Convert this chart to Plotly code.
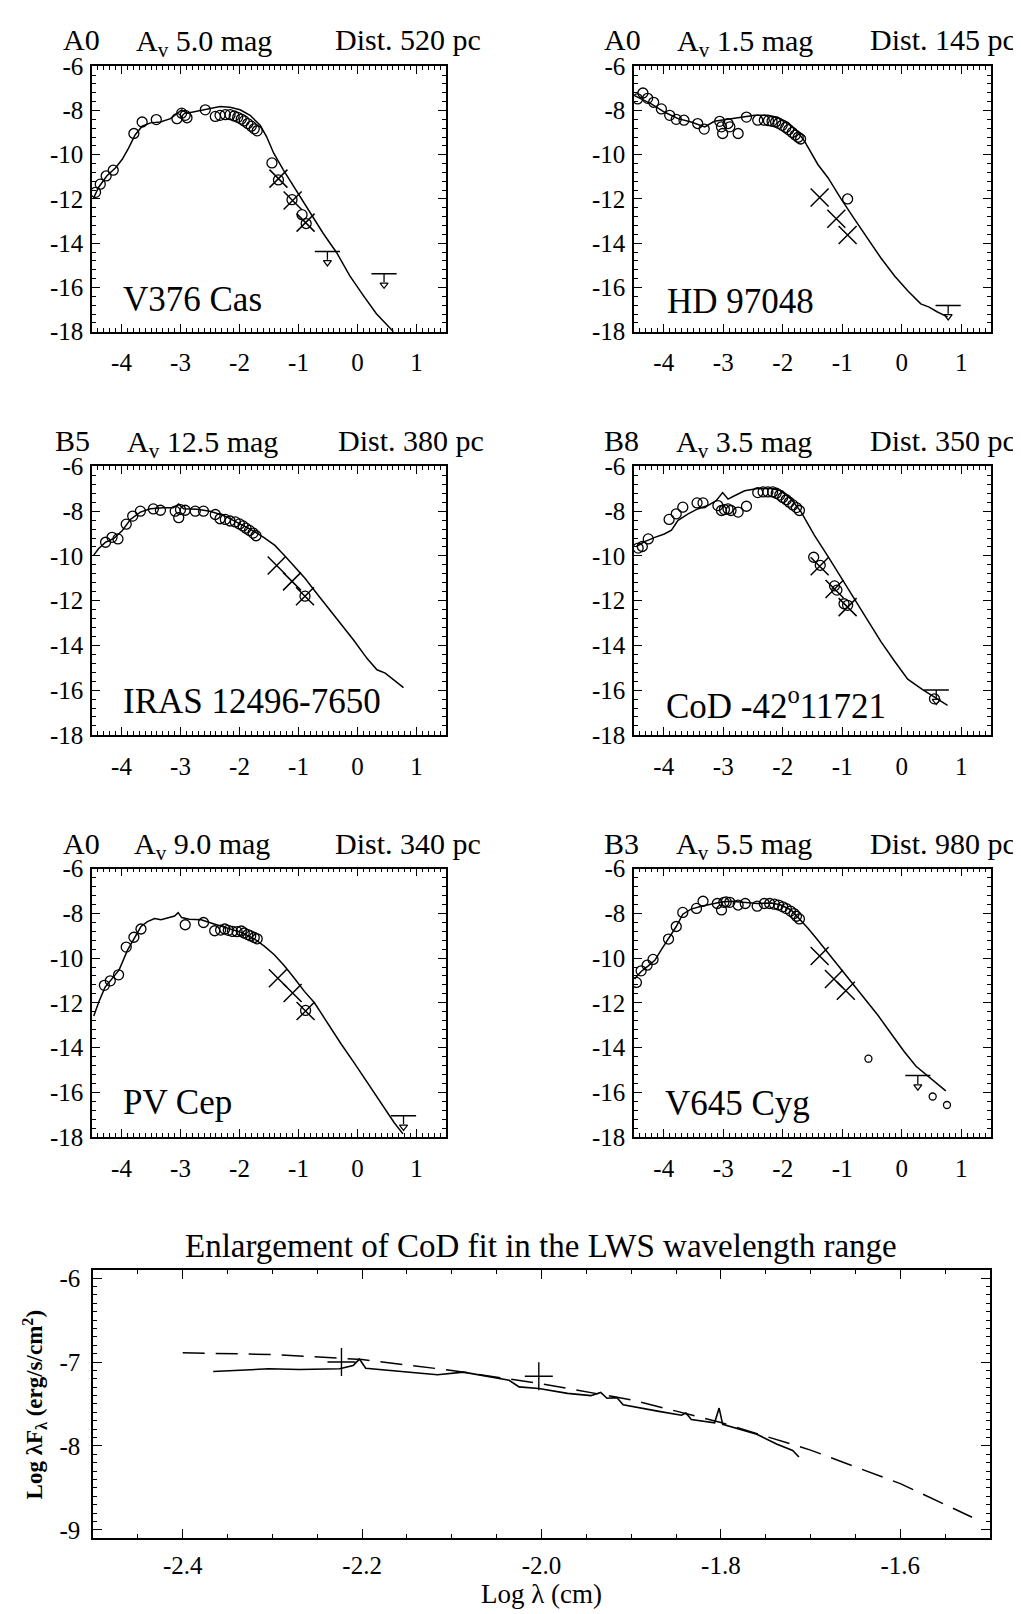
import plotly.graph_objects as go

W, H = 1021, 1614
SERIF = "Liberation Serif, Times New Roman, serif"

# ================= DATA =================
# --- Panel 1: V376 Cas ---
v376_model_x = [-4.48, -4.39, -4.25, -4.10, -3.99, -3.88, -3.77, -3.65, -3.51, -3.34, -3.17, -3.03, -2.98, -2.89,
                -2.72, -2.55, -2.33, -2.16, -1.99, -1.82, -1.65, -1.54, -1.42, -1.26, -1.03, -0.80, -0.58, -0.35,
                -0.13, 0.10, 0.32, 0.61]
v376_model_y = [-12.00, -11.48, -10.96, -10.59, -10.22, -9.70, -9.11, -8.71, -8.56, -8.52, -8.37, -8.07, -7.97, -8.12,
                -8.03, -7.93, -7.82, -7.85, -7.97, -8.22, -8.67, -9.19, -9.93, -10.67, -11.63, -12.59, -13.56, -14.44,
                -15.48, -16.37, -17.19, -18.00]
v376_obs_x = [-4.44, -4.36, -4.26, -4.14, -3.79, -3.65, -3.41, -3.06, -2.98, -2.92, -2.89, -2.58, -2.41, -2.33, -2.24,
              -2.16, -2.09, -2.03, -1.97, -1.92, -1.86, -1.80, -1.75, -1.70, -1.45, -1.34, -1.11, -0.94, -0.87]
v376_obs_y = [-11.70, -11.33, -10.96, -10.70, -9.04, -8.52, -8.41, -8.37, -8.12, -8.22, -8.33, -7.97, -8.27, -8.22,
              -8.19, -8.19, -8.25, -8.31, -8.39, -8.47, -8.59, -8.71, -8.83, -8.92, -10.37, -11.14, -12.03, -12.71,
              -13.11]
v376_iras_x = [-1.34, -1.10, -0.88]
v376_iras_y = [-11.08, -12.07, -13.07]
v376_ul_x = [-0.51, 0.45]
v376_ul_y = [-14.37, -15.38]

# --- Panel 2: HD 97048 ---
hd_model_x = [-4.49, -4.38, -4.21, -3.99, -3.76, -3.54, -3.31, -3.15, -2.92, -2.70, -2.47, -2.25, -2.08, -1.91,
              -1.75, -1.63, -1.52, -1.41, -1.24, -1.02, -0.80, -0.57, -0.35, -0.12, 0.10, 0.32, 0.46, 0.60, 0.77]
hd_model_y = [-7.33, -7.48, -7.70, -8.07, -8.37, -8.52, -8.74, -8.49, -8.40, -8.30, -8.22, -8.22, -8.31, -8.55,
              -8.96, -9.41, -9.93, -10.44, -11.04, -12.00, -12.89, -13.78, -14.67, -15.48, -16.15, -16.74, -16.89,
              -17.11, -17.33]
hd_obs_x = [-4.44, -4.35, -4.27, -4.17, -4.04, -3.90, -3.79, -3.66, -3.43, -3.32, -3.06, -3.03, -3.01, -2.92, -2.89,
            -2.75, -2.61, -2.42, -2.31, -2.24, -2.18, -2.12, -2.07, -2.01, -1.95, -1.90, -1.84, -1.79, -1.74, -1.70,
            -0.91]
hd_obs_y = [-7.48, -7.21, -7.45, -7.63, -7.93, -8.22, -8.40, -8.44, -8.59, -8.84, -8.49, -8.74, -9.04, -8.59, -8.74,
            -9.04, -8.30, -8.44, -8.44, -8.46, -8.49, -8.52, -8.58, -8.67, -8.77, -8.87, -8.99, -9.11, -9.21, -9.29,
            -12.00]
hd_iras_x = [-1.38, -1.10, -0.91]
hd_iras_y = [-11.93, -12.89, -13.63]
hd_ul_x = [0.78]
hd_ul_y = [-16.81]

# --- Panel 3: IRAS 12496-7650 ---
iras_model_x = [-4.48, -4.39, -4.27, -4.13, -3.99, -3.85, -3.68, -3.51, -3.29, -3.12, -3.03, -2.95, -2.72, -2.50,
                -2.27, -2.05, -1.82, -1.59, -1.40, -1.23, -1.06, -0.89, -0.72, -0.52, -0.30, -0.07, 0.16, 0.33,
                0.47, 0.61, 0.78]
iras_model_y = [-10.00, -9.68, -9.39, -9.22, -8.88, -8.37, -8.04, -7.89, -7.85, -7.85, -7.68, -7.89, -7.92, -8.00,
                -8.19, -8.48, -8.80, -9.17, -9.53, -10.00, -10.48, -11.00, -11.58, -12.24, -12.97, -13.75, -14.58,
                -15.09, -15.24, -15.53, -15.89]
iras_obs_x = [-4.27, -4.16, -4.06, -3.92, -3.81, -3.68, -3.46, -3.34, -3.09, -3.03, -3.00, -2.92, -2.75, -2.61, -2.41,
              -2.33, -2.24, -2.16, -2.07, -2.00, -1.94, -1.89, -1.83, -1.77, -1.72, -0.89]
iras_obs_y = [-9.39, -9.17, -9.24, -8.58, -8.22, -8.00, -7.90, -7.96, -8.00, -8.29, -7.93, -7.96, -8.00, -8.00, -8.15,
              -8.34, -8.37, -8.44, -8.48, -8.57, -8.66, -8.76, -8.86, -8.98, -9.10, -11.80]
iras_iras_x = [-1.37, -1.11, -0.89]
iras_iras_y = [-10.43, -11.14, -11.80]
iras_ul_x = []
iras_ul_y = []

# --- Panel 4: CoD -42 11721 ---
cod_model_x = [-4.46, -4.32, -4.15, -3.99, -3.87, -3.76, -3.59, -3.43, -3.26, -3.12, -3.01, -2.92, -2.81, -2.64,
               -2.42, -2.19, -2.03, -1.86, -1.69, -1.47, -1.24, -1.02, -0.80, -0.57, -0.35, -0.12, 0.10, 0.35,
               0.55, 0.77]
cod_model_y = [-9.58, -9.36, -9.17, -9.02, -8.85, -8.41, -8.12, -7.90, -7.75, -7.53, -7.17, -7.46, -7.31, -7.09,
               -6.99, -6.99, -7.09, -7.46, -8.04, -9.07, -10.02, -10.97, -11.92, -12.88, -13.83, -14.71, -15.51,
               -15.98, -16.32, -16.68]
cod_obs_x = [-4.43, -4.36, -4.26, -3.91, -3.79, -3.68, -3.44, -3.34, -3.09, -3.03, -2.98, -2.92, -2.87, -2.75, -2.61,
             -2.42, -2.33, -2.25, -2.17, -2.11, -2.05, -2.00, -1.94, -1.89, -1.83, -1.77, -1.72, -1.48, -1.37,
             -1.13, -1.09, -0.97, -0.91, 0.55]
cod_obs_y = [-9.65, -9.58, -9.24, -8.37, -8.12, -7.82, -7.63, -7.63, -7.75, -7.97, -7.93, -7.90, -7.97, -8.04, -7.78,
             -7.17, -7.14, -7.14, -7.14, -7.20, -7.28, -7.39, -7.49, -7.60, -7.72, -7.84, -7.97, -10.06, -10.42,
             -11.34, -11.53, -12.14, -12.21, -16.39]
cod_iras_x = [-1.38, -1.13, -0.91]
cod_iras_y = [-10.46, -11.48, -12.29]
cod_ul_x = [0.58]
cod_ul_y = [-15.99]

# --- Panel 5: PV Cep ---
pv_model_x = [-4.47, -4.38, -4.28, -4.15, -4.04, -3.90, -3.75, -3.67, -3.56, -3.44, -3.33, -3.19, -3.10, -3.04,
              -2.98, -2.85, -2.65, -2.43, -2.20, -1.97, -1.75, -1.58, -1.41, -1.24, -1.07, -0.90, -0.73, -0.51,
              -0.28, -0.05, 0.17, 0.40, 0.62, 0.77]
pv_model_y = [-12.59, -11.93, -11.31, -10.87, -10.53, -9.66, -9.00, -8.59, -8.37, -8.23, -8.29, -8.20, -8.12, -7.97,
              -8.19, -8.26, -8.29, -8.48, -8.67, -8.85, -9.14, -9.47, -9.85, -10.34, -10.90, -11.49, -12.00, -12.92,
              -13.83, -14.71, -15.59, -16.47, -17.35, -17.86]
pv_obs_x = [-4.29, -4.19, -4.05, -3.92, -3.79, -3.67, -2.92, -2.61, -2.42, -2.32, -2.25, -2.19, -2.12, -2.04, -1.97,
            -1.92, -1.86, -1.81, -1.75, -1.70, -0.88]
pv_obs_y = [-11.22, -11.02, -10.75, -9.51, -9.07, -8.70, -8.51, -8.41, -8.78, -8.75, -8.70, -8.76, -8.81, -8.82, -8.79,
            -8.88, -8.95, -9.01, -9.08, -9.14, -12.34]
pv_iras_x = [-1.35, -1.10, -0.88]
pv_iras_y = [-10.90, -11.56, -12.37]
pv_ul_x = [0.78]
pv_ul_y = [-17.05]

# --- Panel 6: V645 Cyg ---
v645_model_x = [-4.49, -4.38, -4.26, -4.15, -4.04, -3.93, -3.79, -3.68, -3.54, -3.37, -3.20, -3.03, -2.87, -2.64,
                -2.42, -2.19, -2.03, -1.86, -1.72, -1.58, -1.44, -1.27, -1.10, -0.94, -0.77, -0.60, -0.40, -0.18,
                0.04, 0.24, 0.41, 0.58, 0.74]
v645_model_y = [-10.94, -10.60, -10.35, -10.10, -9.62, -9.18, -8.59, -8.04, -7.81, -7.68, -7.57, -7.49, -7.46, -7.51,
                -7.56, -7.54, -7.63, -7.85, -8.25, -8.66, -9.10, -9.66, -10.21, -10.79, -11.31, -11.90, -12.56,
                -13.37, -14.18, -14.84, -15.21, -15.57, -15.94]
v645_obs_x = [-4.46, -4.38, -4.28, -4.18, -3.92, -3.79, -3.68, -3.45, -3.34, -3.10, -3.03, -2.99, -2.95, -2.89, -2.75,
              -2.63, -2.43, -2.31, -2.22, -2.14, -2.07, -2.00, -1.94, -1.87, -1.81, -1.77, -1.72]
v645_obs_y = [-11.09, -10.57, -10.32, -10.06, -9.15, -8.59, -7.96, -7.78, -7.46, -7.56, -7.85, -7.51, -7.49, -7.51,
              -7.63, -7.56, -7.68, -7.56, -7.56, -7.59, -7.63, -7.71, -7.79, -7.90, -8.01, -8.13, -8.25]
v645_mm_x = [-0.56, 0.52, 0.76]
v645_mm_y = [-14.50, -16.19, -16.57]
v645_iras_x = [-1.38, -1.14, -0.94]
v645_iras_y = [-9.91, -10.94, -11.46]
v645_ul_x = [0.27]
v645_ul_y = [-15.25]

# --- Panel headers ---
spectral_types = ["A0", "A0", "B5", "B8", "A0", "B3"]
extinctions = ["5.0", "1.5", "12.5", "3.5", "9.0", "5.5"]
distances = ["520", "145", "380", "350", "340", "980"]
star_names = ["V376 Cas", "HD 97048", "IRAS 12496-7650", "CoD -42<sup>o</sup>11721", "PV Cep", "V645 Cyg"]

sed_xtick_vals = [-4, -3, -2, -1, 0, 1]
sed_xtick_text = ["-4", "-3", "-2", "-1", "0", "1"]
sed_ytick_vals = [-18, -16, -14, -12, -10, -8, -6]
sed_ytick_text = ["-18", "-16", "-14", "-12", "-10", "-8", "-6"]

# --- Bottom panel: CoD LWS enlargement ---
lws_model_x = [-2.40, -2.30, -2.20, -2.10, -2.00, -1.90, -1.80, -1.70, -1.60, -1.52]
lws_model_y = [-6.89, -6.91, -6.97, -7.10, -7.26, -7.45, -7.72, -8.05, -8.45, -8.85]
lws_spec_x = [-2.366, -2.340, -2.304, -2.270, -2.225, -2.210, -2.203, -2.196, -2.159, -2.116, -2.087, -2.058,
              -2.036, -2.025, -2.003, -1.971, -1.945, -1.934, -1.927, -1.916, -1.909, -1.869, -1.844, -1.839,
              -1.833, -1.807, -1.802, -1.798, -1.760, -1.738, -1.720, -1.713]
lws_spec_y = [-7.113, -7.100, -7.081, -7.090, -7.081, -7.043, -6.965, -7.074, -7.113, -7.152, -7.121, -7.179,
              -7.218, -7.296, -7.315, -7.374, -7.401, -7.362, -7.432, -7.424, -7.510, -7.588, -7.634, -7.607,
              -7.685, -7.724, -7.549, -7.743, -7.860, -7.977, -8.054, -8.132]
lws_phot_x = [-2.223, -2.003]
lws_phot_y = [-7.00, -7.17]
lws_xtick_vals = [-2.4, -2.2, -2.0, -1.8, -1.6]
lws_xtick_text = ["-2.4", "-2.2", "-2.0", "-1.8", "-1.6"]
lws_ytick_vals = [-9, -8, -7, -6]
lws_ytick_text = ["-9", "-8", "-7", "-6"]

panels = [
    (v376_model_x, v376_model_y, v376_obs_x, v376_obs_y, v376_iras_x, v376_iras_y, v376_ul_x, v376_ul_y),
    (hd_model_x, hd_model_y, hd_obs_x, hd_obs_y, hd_iras_x, hd_iras_y, hd_ul_x, hd_ul_y),
    (iras_model_x, iras_model_y, iras_obs_x, iras_obs_y, iras_iras_x, iras_iras_y, iras_ul_x, iras_ul_y),
    (cod_model_x, cod_model_y, cod_obs_x, cod_obs_y, cod_iras_x, cod_iras_y, cod_ul_x, cod_ul_y),
    (pv_model_x, pv_model_y, pv_obs_x, pv_obs_y, pv_iras_x, pv_iras_y, pv_ul_x, pv_ul_y),
    (v645_model_x, v645_model_y, v645_obs_x, v645_obs_y, v645_iras_x, v645_iras_y, v645_ul_x, v645_ul_y),
]

# ================= LAYOUT GEOMETRY (pixels) =================
col_px = [(84, 438), (626, 983)]
row_px = [(46, 316), (453, 726), (862, 1135)]
# header pieces: (spectral left edge, A_v centre, distance right edge), header cap-centre y
head_x = [(53, 196, 475), (594, 737, 1010), (45, 194, 478), (594, 736, 1010), (53, 194, 475), (594, 736, 1010)]
head_y = [19, 19, 427, 427, 836, 836]
name_pos = [(113, 283), (657, 285), (113, 692), (656, 694), (113, 1100), (655, 1101)]


def xdom(l, r):
    return [l / W, r / W]


def ydom(t, b):
    return [1 - b / H, 1 - t / H]


def px(x):
    return x / W


def py(y):
    return 1 - y / H


fig = go.Figure()
line_k = dict(color="black", width=1.5)
layout_axes = {}
annotations = []

for i, (mx, my, ox, oy, ix, iy, ux, uy) in enumerate(panels):
    n = i + 1
    xa, ya = f"x{n}", f"y{n}"
    fig.add_trace(go.Scatter(x=mx, y=my, mode="lines", line=line_k, xaxis=xa, yaxis=ya, showlegend=False))
    fig.add_trace(go.Scatter(x=ox, y=oy, mode="markers", xaxis=xa, yaxis=ya, showlegend=False,
                             marker=dict(symbol="circle-open", size=10, color="black", line=dict(width=1.3))))
    fig.add_trace(go.Scatter(x=ix, y=iy, mode="markers", xaxis=xa, yaxis=ya, showlegend=False,
                             marker=dict(symbol="x-thin-open", size=18, color="black", line=dict(width=1.5))))
    if ux:
        fig.add_trace(go.Scatter(x=ux, y=uy, mode="markers", xaxis=xa, yaxis=ya, showlegend=False,
                                 marker=dict(symbol="line-ew-open", size=18, color="black", line=dict(width=1.5)),
                                 error_y=dict(type="data", symmetric=False, array=[0] * len(ux),
                                              arrayminus=[0.38] * len(ux), width=0, thickness=1.3,
                                              color="black")))
        fig.add_trace(go.Scatter(x=ux, y=[v - 0.5 for v in uy], mode="markers", xaxis=xa, yaxis=ya,
                                 showlegend=False,
                                 marker=dict(symbol="triangle-down-open", size=7, color="black",
                                             line=dict(width=1.2))))
    if n == 6:
        fig.add_trace(go.Scatter(x=v645_mm_x, y=v645_mm_y, mode="markers", xaxis=xa, yaxis=ya, showlegend=False,
                                 marker=dict(symbol="circle-open", size=7, color="black", line=dict(width=1.3))))

    c, r = i % 2, i // 2
    common = dict(ticks="inside", ticklen=8, tickwidth=1.2, tickcolor="black", showline=True, linecolor="black",
                  linewidth=1.5, mirror="ticks", showgrid=False, zeroline=False,
                  tickfont=dict(family=SERIF, size=25, color="black"))
    layout_axes[f"xaxis{n}"] = dict(common, domain=xdom(*col_px[c]), range=[-4.5, 1.5], tickmode="array",
                                    tickvals=sed_xtick_vals, ticktext=sed_xtick_text, anchor=ya,
                                    ticklabelstandoff=8,
                                    minor=dict(ticks="inside", ticklen=4, tickwidth=1, tickcolor="black",
                                               tickmode="linear", tick0=0, dtick=0.1))
    layout_axes[f"yaxis{n}"] = dict(common, domain=ydom(*row_px[r]), range=[-18, -6], tickmode="array",
                                    tickvals=sed_ytick_vals, ticktext=sed_ytick_text, anchor=xa,
                                    ticklabelstandoff=2,
                                    minor=dict(ticks="inside", ticklen=4, tickwidth=1, tickcolor="black",
                                               tickmode="linear", tick0=0, dtick=0.4))

    hx = head_x[i]
    hy = head_y[i]
    tf = dict(family=SERIF, size=30, color="black")
    annotations.append(dict(text=spectral_types[i], x=px(hx[0]), y=py(hy), xref="paper", yref="paper",
                            xanchor="left", yanchor="middle", showarrow=False, font=tf))
    annotations.append(dict(text=f"A<sub>v</sub> {extinctions[i]} mag", x=px(hx[1]), y=py(hy + 3),
                            xref="paper", yref="paper", xanchor="center", yanchor="middle", showarrow=False,
                            font=tf))
    annotations.append(dict(text=f"Dist. {distances[i]} pc", x=px(hx[2]), y=py(hy), xref="paper", yref="paper",
                            xanchor="right", yanchor="middle", showarrow=False, font=tf))
    nx, ny = name_pos[i]
    annotations.append(dict(text=star_names[i], x=px(nx), y=py(ny), xref="paper", yref="paper",
                            xanchor="left", yanchor="middle", showarrow=False,
                            font=dict(family=SERIF, size=35, color="black")))

# ---- bottom panel ----
fig.add_trace(go.Scatter(x=lws_model_x, y=lws_model_y, mode="lines", xaxis="x7", yaxis="y7", showlegend=False,
                         line=dict(color="black", width=1.5, dash="22px,11px")))
fig.add_trace(go.Scatter(x=lws_spec_x, y=lws_spec_y, mode="lines", xaxis="x7", yaxis="y7", showlegend=False,
                         line=dict(color="black", width=1.6)))
fig.add_trace(go.Scatter(x=lws_phot_x, y=lws_phot_y, mode="markers", xaxis="x7", yaxis="y7", showlegend=False,
                         marker=dict(symbol="cross-thin-open", size=20, color="black", line=dict(width=1.4))))

common7 = dict(ticks="inside", ticklen=9, tickwidth=1.2, tickcolor="black", showline=True, linecolor="black",
               linewidth=1.5, mirror="ticks", showgrid=False, zeroline=False,
               tickfont=dict(family=SERIF, size=25, color="black"))
layout_axes["xaxis7"] = dict(common7, domain=xdom(85, 982), range=[-2.5, -1.5], tickmode="array",
                             tickvals=lws_xtick_vals, ticktext=lws_xtick_text, anchor="y7", ticklabelstandoff=4,
                             minor=dict(ticks="inside", ticklen=4, tickwidth=1, tickcolor="black",
                                        tickmode="linear", tick0=0, dtick=0.05))
layout_axes["yaxis7"] = dict(common7, domain=ydom(1270, 1543), range=[-9.1, -5.9], tickmode="array",
                             tickvals=lws_ytick_vals, ticktext=lws_ytick_text, anchor="x7", ticklabelstandoff=6,
                             minor=dict(ticks="inside", ticklen=4, tickwidth=1, tickcolor="black",
                                        tickmode="linear", tick0=0, dtick=0.1))

annotations.append(dict(text="Enlargement of CoD fit in the LWS wavelength range", x=px(533), y=py(1246),
                        xref="paper", yref="paper", xanchor="center", yanchor="middle", showarrow=False,
                        font=dict(family=SERIF, size=33, color="black")))
annotations.append(dict(text="Log λ (cm)", x=px(533), y=py(1600), xref="paper", yref="paper",
                        xanchor="center", yanchor="middle", showarrow=False,
                        font=dict(family=SERIF, size=27, color="black")))
annotations.append(dict(text="<b>Log λF<sub>λ</sub> (erg/s/cm<sup>2</sup>)</b>", x=px(26), y=py(1407),
                        xref="paper", yref="paper", xanchor="center", yanchor="middle", showarrow=False,
                        textangle=-90, font=dict(family=SERIF, size=23, color="black")))

fig.update_layout(width=W, height=H, margin=dict(l=0, r=0, t=0, b=0), paper_bgcolor="white",
                  plot_bgcolor="white", annotations=annotations, **layout_axes)

fig.write_html("out.html")
